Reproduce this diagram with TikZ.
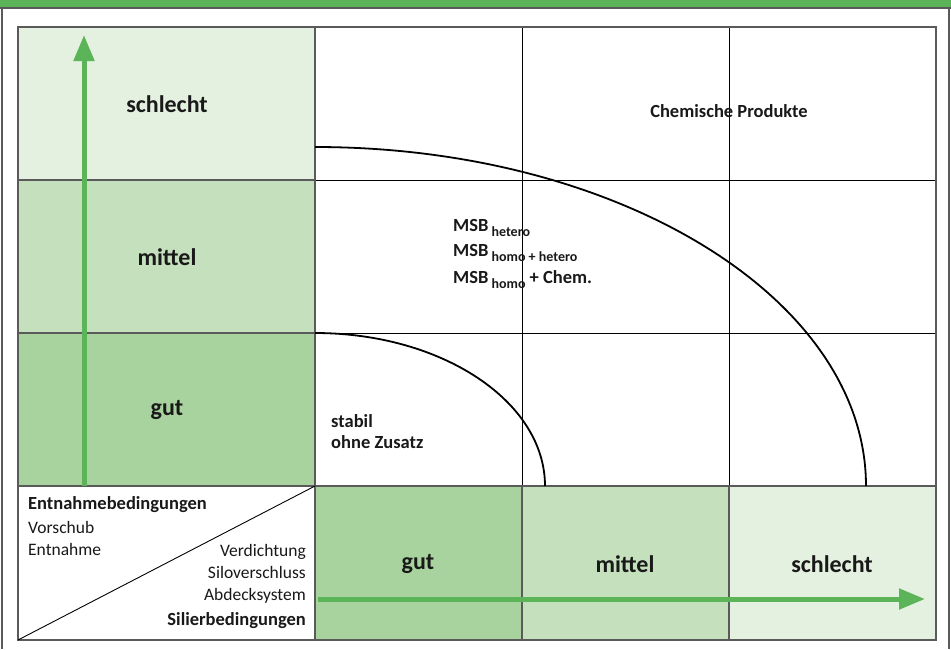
\documentclass[tikz,border=0pt]{standalone}
\usepackage{fontspec}
\setmainfont{Carlito}
\usetikzlibrary{arrows.meta}
\definecolor{barg}{RGB}{92,180,88}
\definecolor{lg}{RGB}{228,240,224}
\definecolor{mg}{RGB}{197,224,188}
\definecolor{dg}{RGB}{169,211,158}
\definecolor{frame}{RGB}{90,90,90}
\definecolor{ink}{RGB}{25,25,25}
\newcommand{\subtxt}[1]{{\fontsize{14}{16}\selectfont\raisebox{-5pt}{#1}}}
\tikzset{
  big/.style={font=\fontsize{24}{28}\selectfont\bfseries, text=ink, inner sep=0pt},
  mid/.style={font=\fontsize{18.5}{22}\selectfont\bfseries, text=ink, inner sep=0pt},
  small/.style={font=\fontsize{17.5}{21}\selectfont, text=ink, inner sep=0pt},
  grid/.style={draw=black, line width=0.9pt},
  border/.style={draw=frame, line width=1.6pt},
  curve/.style={draw=black, line width=1.8pt},
  garrow/.style={draw=barg, line width=5pt, -{Triangle[width=20pt,length=26pt]}}
}
\begin{document}
\begin{tikzpicture}[x=1pt,y=-1pt]
\useasboundingbox (0,0) rectangle (951,649);
\fill[white] (0,0) rectangle (951,649);
% top bar and outer frame
\fill[barg] (0,0) rectangle (951,7);
\draw[frame, line width=1.2pt] (0,8) -- (951,8);
\draw[frame, line width=1.2pt] (2,8) -- (2,649);
\draw[frame, line width=1.2pt] (949,8) -- (949,649);
% cell fills
\fill[lg] (18,27) rectangle (315,180);
\fill[mg] (18,180) rectangle (315,333);
\fill[dg] (18,333) rectangle (315,486);
\fill[dg] (315,486) rectangle (522,640);
\fill[mg] (522,486) rectangle (729,640);
\fill[lg] (729,486) rectangle (936,640);
% inner grid lines
\draw[grid] (522,27) -- (522,486) (729,27) -- (729,486);
\draw[grid] (315,180) -- (936,180) (315,333) -- (936,333);
\draw[border] (18,180) -- (315,180) (18,333) -- (315,333);
\draw[border] (315,27) -- (315,640) (18,486) -- (936,486);
\draw[border] (522,486) -- (522,640) (729,486) -- (729,640);
\draw[border] (18,27) rectangle (936,640);
% diagonal in corner cell
\coordinate (dA) at (18,640);
\coordinate (dB) at (315,486);
\draw[black, line width=0.9pt] (dA) -- (dB);
% curves
\coordinate (s1) at (315,333);
\coordinate (e1) at (545,486);
\coordinate (s2) at (315,147);
\coordinate (e2) at (866,486);
\draw[curve] (s1) .. controls (442,333) and (545,401.5) .. (e1);
\draw[curve] (s2) .. controls (619.3,147) and (866,298.8) .. (e2);
% arrows
\coordinate (va0) at (84,486);
\coordinate (va1) at (84,35);
\coordinate (ha0) at (318,599);
\coordinate (ha1) at (925,599);
\draw[garrow] (va0) -- (va1);
\draw[garrow] (ha0) -- (ha1);
% row labels
\node[big] (r1) at (167,104) {schlecht};
\node[big] (r2) at (167,257) {mittel};
\node[big] (r3) at (167,410) {gut};
% column labels
\node[big] (c1) at (418,564) {gut};
\node[big] (c2) at (625,564) {mittel};
\node[big] (c3) at (832,564) {schlecht};
% inner texts
\node[mid] (chem) at (729,111) {Chemische Produkte};
\node[mid, anchor=base west] (m1) at (453,231) {MSB\,\subtxt{hetero}};
\node[mid, anchor=base west] (m2) at (453,256) {MSB\,\subtxt{homo + hetero}};
\node[mid, anchor=base west] (m3) at (453,283) {MSB\,\subtxt{homo} + Chem.};
\node[mid, anchor=base west] (st1) at (331,427) {stabil};
\node[mid, anchor=base west] (st2) at (331,448) {ohne Zusatz};
% corner cell texts
\node[mid, anchor=base west] (en) at (28,509) {Entnahmebedingungen};
\node[small, anchor=base west] (vo) at (28,533) {Vorschub};
\node[small, anchor=base west] (ent) at (28,555) {Entnahme};
\node[small, anchor=base east] (ve) at (306,556) {Verdichtung};
\node[small, anchor=base east] (si) at (306,578) {Siloverschluss};
\node[small, anchor=base east] (ab) at (306,600) {Abdecksystem};
\node[mid, anchor=base east] (sb) at (306,625) {Silierbedingungen};
\end{tikzpicture}
\end{document}
